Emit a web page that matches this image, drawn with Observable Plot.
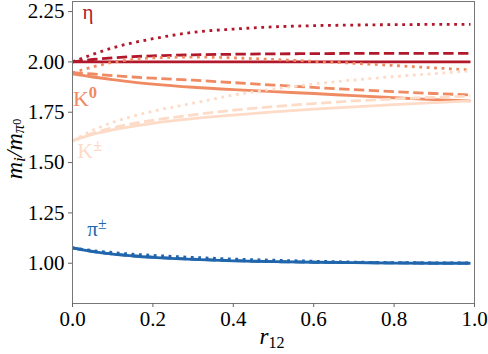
<!DOCTYPE html>
<html><head><meta charset="utf-8">
<script src="https://cdn.jsdelivr.net/npm/d3@7"></script>
<script src="https://cdn.jsdelivr.net/npm/@observablehq/plot@0.6"></script>
<style>
html,body{margin:0;padding:0;background:#fff}
svg{display:block}
svg, svg text, svg tspan {font-family: "Liberation Serif", "Times New Roman", serif !important;}
</style>
</head><body><div id="chart"></div>
<script>
// r12 grid
const r12 = [0, 0.05, 0.1, 0.15, 0.2, 0.3, 0.4, 0.5, 0.6, 0.7, 0.8, 0.9, 0.99];

// eta
const etaSolid  = [2.000, 2.000, 2.000, 2.000, 2.000, 2.000, 2.000, 2.000, 2.000, 2.000, 2.000, 2.000, 2.000];
const etaDashed = [2.000, 2.012, 2.020, 2.026, 2.030, 2.035, 2.038, 2.040, 2.041, 2.042, 2.042, 2.042, 2.042];
const etaDotted = [2.000, 2.037, 2.070, 2.095, 2.115, 2.147, 2.163, 2.174, 2.180, 2.183, 2.185, 2.186, 2.186];
// K0
const k0Solid  = [1.940, 1.925, 1.912, 1.900, 1.890, 1.874, 1.862, 1.852, 1.843, 1.832, 1.822, 1.813, 1.806];
const k0Dashed = [1.947, 1.940, 1.932, 1.925, 1.919, 1.909, 1.897, 1.885, 1.873, 1.862, 1.852, 1.843, 1.836];
const k0Dotted = [1.945, 1.975, 1.998, 2.012, 2.020, 2.024, 2.020, 2.012, 2.003, 1.993, 1.982, 1.970, 1.960];
// K+-
const kpmSolid  = [1.608, 1.640, 1.662, 1.680, 1.695, 1.718, 1.736, 1.752, 1.765, 1.777, 1.788, 1.798, 1.806];
const kpmDashed = [1.608, 1.645, 1.672, 1.693, 1.710, 1.737, 1.760, 1.778, 1.793, 1.806, 1.816, 1.824, 1.830];
const kpmDotted = [1.608, 1.660, 1.700, 1.730, 1.755, 1.795, 1.835, 1.865, 1.890, 1.910, 1.927, 1.942, 1.955];
// pi+-
const piSolid  = [1.076, 1.058, 1.045, 1.036, 1.029, 1.019, 1.012, 1.008, 1.005, 1.003, 1.001, 1.000, 1.000];
const piDashed = [1.076, 1.059, 1.046, 1.037, 1.030, 1.020, 1.013, 1.008, 1.005, 1.003, 1.002, 1.001, 1.000];
const piDotted = [1.076, 1.063, 1.053, 1.045, 1.039, 1.029, 1.021, 1.015, 1.010, 1.006, 1.003, 1.002, 1.001];

const xTicks = [0, 0.2, 0.4, 0.6, 0.8, 1.0];
const yTicks = [1.00, 1.25, 1.50, 1.75, 2.00, 2.25];

const particles = ["eta", "K0", "Kpm", "pi"];
const particleColors = ["#b2182b", "#ef8a62", "#fddbc7", "#2166ac"];
const styles = ["solid", "dashed", "dotted"];

// label texts and their anchor positions (data coordinates)
const labelMain = ["η", "K", "K", "π"];
const labelSup  = ["", "0", "±", "±"];
const labelR    = [0.025, 0.001, 0.012, 0.037];
const labelM    = [2.215, 1.782, 1.523, 1.136];

const seriesValues = {
  eta: [etaSolid, etaDashed, etaDotted],
  K0: [k0Solid, k0Dashed, k0Dotted],
  Kpm: [kpmSolid, kpmDashed, kpmDotted],
  pi: [piSolid, piDashed, piDotted]
};

const lw = 2.8;
const dash = {solid: null, dashed: `${3.7*lw},${1.6*lw}`, dotted: `${1*lw},${1.65*lw}`};

const marks = [];
particles.forEach((p, pi) => {
  styles.forEach((s, si) => {
    const data = r12.map((x, i) => ({r: x, m: seriesValues[p][si][i]}));
    marks.push(Plot.line(data, {
      x: "r", y: "m", stroke: particleColors[pi], strokeWidth: lw,
      strokeDasharray: dash[s], strokeLinecap: "butt", curve: "monotone-x"
    }));
  });
});

const labels = labelMain.map((t, i) => ({t, sup: labelSup[i], r: labelR[i], m: labelM[i], c: particleColors[i], i}));
marks.push(Plot.text(labels, {
  x: "r", y: "m", text: "t", fill: "c", textAnchor: "start", lineAnchor: "bottom",
  fontSize: d => (d.t === "K" ? 22 : 21), fontWeight: d => (d.t === "K" ? "bold" : "normal"),
  fontStyle: d => (d.t === "K" ? "normal" : "italic")
}));

marks.push(Plot.frame({stroke: "#777", strokeWidth: 1}));
marks.push(Plot.axisY({ticks: yTicks, tickFormat: d3.format(".2f"), tickSize: 4, tickPadding: 4, stroke: "#666", label: null}));
marks.push(Plot.axisX({ticks: xTicks, tickFormat: d3.format(".1f"), tickSize: 4, tickPadding: 4, stroke: "#666", label: null}));

const plot = Plot.plot({
  width: 488, height: 354,
  marginLeft: 72, marginRight: 14, marginTop: 1, marginBottom: 51,
  x: {domain: [0, 1]},
  y: {domain: [0.8, 2.3]},
  style: {fontSize: "21px", color: "#000", background: "#fff"},
  marks
});

const svg = d3.select(plot);
// superscripts for labels
svg.selectAll('g[aria-label="text"] text').each(function(_, k) {
  const d = labels[k];
  if (d && d.sup) {
    d3.select(this).append("tspan").attr("dy", "-0.45em").attr("font-size", "0.75em")
      .attr("font-weight", d.t === "K" ? "bold" : "normal")
      .attr("font-style", "normal").text(d.sup);
  }
});

// y axis label: m_i / m_{pi^0}
const yl = svg.append("text")
  .attr("transform", "translate(22,149) rotate(-90)")
  .attr("text-anchor", "middle")
  .attr("font-size", 24).attr("font-style", "italic").attr("fill", "#000");
yl.append("tspan").text("m");
yl.append("tspan").attr("dy", "0.2em").attr("font-size", "0.7em").text("i");
yl.append("tspan").attr("dy", "-0.14em").text("/m");
yl.append("tspan").attr("dy", "0.14em").attr("font-size", "0.7em").text("π");
yl.append("tspan").attr("dy", "-0.3em").attr("font-size", "0.5em").attr("font-style", "normal").text("0");

// x axis label: r_12
const xl = svg.append("text")
  .attr("x", 272).attr("y", 344)
  .attr("text-anchor", "middle")
  .attr("font-size", 23).attr("fill", "#000");
xl.append("tspan").attr("font-style", "italic").text("r");
xl.append("tspan").attr("dy", "0.25em").attr("font-size", "0.7em").text("12");

document.getElementById("chart").appendChild(plot);
</script>
</body></html>
